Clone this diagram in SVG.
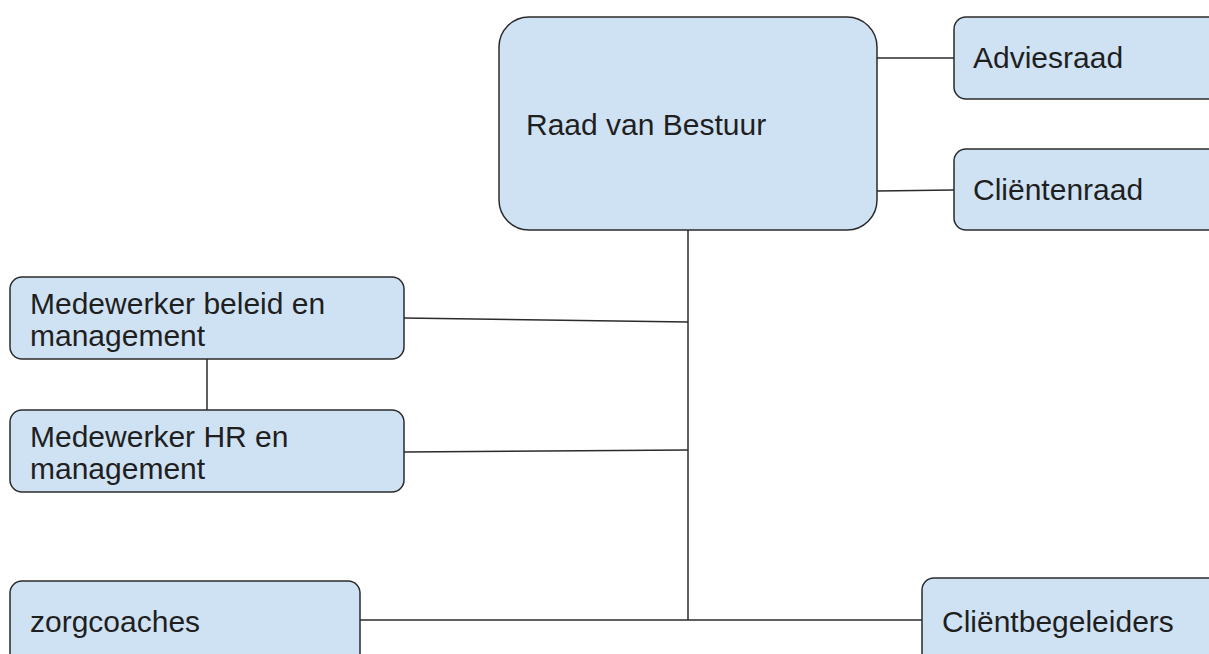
<svg xmlns="http://www.w3.org/2000/svg" width="1209" height="654" viewBox="0 0 1209 654">
<style>
.box{fill:#cfe2f3;stroke:#2b2b2b;stroke-width:1.5}
.lbl{font-family:"Liberation Sans",Arial,sans-serif;font-size:30px;fill:#1f1f1f}
.con{stroke:#2b2b2b;stroke-width:1.5;fill:none}
</style>
<rect width="1209" height="654" fill="#ffffff"/>
<g id="connectors">
<line class="con" x1="877" y1="58" x2="954" y2="58"/>
<line class="con" x1="877" y1="191" x2="954" y2="190"/>
<line class="con" x1="688" y1="230" x2="688" y2="620"/>
<line class="con" x1="404" y1="318" x2="688" y2="322"/>
<line class="con" x1="404" y1="452" x2="688" y2="450"/>
<line class="con" x1="207" y1="359" x2="207" y2="410"/>
<line class="con" x1="360" y1="620" x2="922" y2="620"/>
</g>
<g id="raad-van-bestuur">
<rect class="box" x="499" y="17" width="378" height="213" rx="30"/>
<text class="lbl" x="526" y="135">Raad van Bestuur</text>
</g>
<g id="adviesraad">
<rect class="box" x="954" y="17" width="270" height="82" rx="12"/>
<text class="lbl" x="973" y="68">Adviesraad</text>
</g>
<g id="clientenraad">
<rect class="box" x="954" y="149" width="270" height="81" rx="12"/>
<text class="lbl" x="973" y="200">Cliëntenraad</text>
</g>
<g id="medewerker-beleid">
<rect class="box" x="10" y="277" width="394" height="82" rx="12"/>
<text class="lbl" x="30" y="314">Medewerker beleid en</text>
<text class="lbl" x="30" y="346">management</text>
</g>
<g id="medewerker-hr">
<rect class="box" x="10" y="410" width="394" height="82" rx="12"/>
<text class="lbl" x="30" y="447">Medewerker HR en</text>
<text class="lbl" x="30" y="479">management</text>
</g>
<g id="zorgcoaches">
<rect class="box" x="10" y="581" width="350" height="90" rx="12"/>
<text class="lbl" x="30" y="632">zorgcoaches</text>
</g>
<g id="clientbegeleiders">
<rect class="box" x="922" y="578" width="300" height="90" rx="12"/>
<text class="lbl" x="942" y="632">Cliëntbegeleiders</text>
</g>
</svg>
